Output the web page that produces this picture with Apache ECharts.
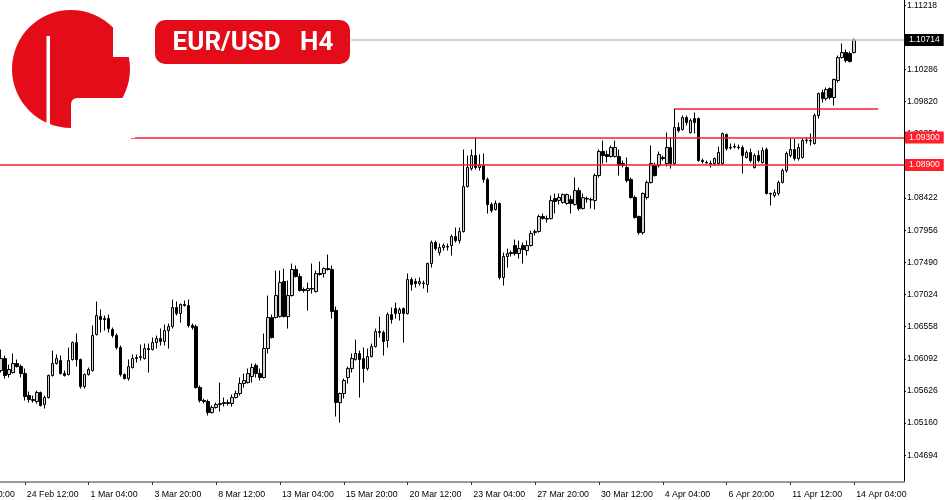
<!DOCTYPE html>
<html><head><meta charset="utf-8">
<script src="https://cdn.jsdelivr.net/npm/echarts@6/dist/echarts.min.js"></script>
<style>html,body{margin:0;padding:0;background:#fff}#c{width:950px;height:500px}</style>
</head><body><div id="c"></div>
<script>
// H4 candles, 23 Feb 2023 12:00 .. 14 Apr 2023 04:00
const opens = [
1.05921,1.06095,1.05863,1.05892,1.06023,1.05979,1.05878,1.05559,1.05486,1.05472,
1.05602,1.05428,1.05530,1.05849,1.06023,1.06066,1.05878,1.05863,1.06081,1.06327,
1.06081,1.05689,1.05863,1.05921,1.06443,1.06704,1.06675,1.06675,1.06516,1.06429,
1.06255,1.05863,1.05805,1.05965,1.06095,1.06110,1.06095,1.06240,1.06226,1.06327,
1.06385,1.06342,1.06501,1.06559,1.06835,1.06748,1.06878,1.06864,1.06574,1.06559,
1.05675,1.05486,1.05472,1.05312,1.05385,1.05428,1.05443,1.05457,1.05443,1.05530,
1.05588,1.05733,1.05747,1.05834,1.05994,1.05878,1.05820,1.06240,1.06690,1.06690,
1.06704,1.07212,1.06704,1.07009,1.07386,1.07284,1.07096,1.07081,1.07110,1.07067,
1.07328,1.07328,1.07400,1.07386,1.06791,1.05457,1.05588,1.05820,1.05950,1.06081,
1.06168,1.06095,1.05950,1.06124,1.06269,1.06487,1.06472,1.06356,1.06733,1.06820,
1.06748,1.06820,1.06748,1.07241,1.07212,1.07183,1.07183,1.07168,1.07473,1.07777,
1.07632,1.07705,1.07719,1.07734,1.07864,1.07806,1.07937,1.08589,1.08850,1.09039,
1.08865,1.08894,1.08691,1.08328,1.08256,1.08343,1.07270,1.07574,1.07618,1.07734,
1.07618,1.07734,1.07661,1.07734,1.07922,1.07937,1.08154,1.08125,1.08125,1.08415,
1.08386,1.08357,1.08343,1.08401,1.08328,1.08531,1.08270,1.08415,1.08401,1.08386,
1.08749,1.09097,1.09053,1.09024,1.09024,1.09024,1.08923,1.08865,1.08691,1.08430,
1.08154,1.07922,1.08430,1.08647,1.08894,1.08894,1.09010,1.08923,1.09155,1.08923,
1.09445,1.09416,1.09590,1.09372,1.09575,1.09575,1.08966,1.08937,1.08923,1.08923,
1.08923,1.08923,1.09343,1.09155,1.09169,1.09155,1.09155,1.09010,1.09082,1.08865,
1.09039,1.08937,1.09126,1.08488,1.08459,1.08488,1.08647,1.08821,1.09039,1.09126,
1.08995,1.09010,1.09256,1.09256,1.09213,1.09619,1.09952,1.09865,1.10010,1.09880,
1.10126,1.10460,1.10532,1.10518,1.10532];
const closes = [
1.06095,1.05849,1.05936,1.06023,1.05979,1.05878,1.05544,1.05501,1.05501,1.05602,
1.05414,1.05530,1.05849,1.06023,1.06095,1.05878,1.05849,1.06066,1.06327,1.06081,
1.05689,1.05863,1.05936,1.06429,1.06719,1.06661,1.06661,1.06530,1.06429,1.06255,
1.05863,1.05805,1.05979,1.06095,1.06110,1.06124,1.06240,1.06226,1.06327,1.06385,
1.06342,1.06501,1.06559,1.06835,1.06748,1.06878,1.06864,1.06574,1.06545,1.05675,
1.05486,1.05472,1.05312,1.05385,1.05428,1.05443,1.05457,1.05443,1.05530,1.05588,
1.05733,1.05776,1.05878,1.05965,1.05878,1.05820,1.06240,1.06690,1.06400,1.07009,
1.07197,1.06704,1.07009,1.07386,1.07284,1.07081,1.07081,1.07110,1.07103,1.07328,
1.07313,1.07400,1.07386,1.06777,1.05457,1.05588,1.05776,1.05950,1.06095,1.06168,
1.06081,1.05950,1.06124,1.06269,1.06487,1.06472,1.06342,1.06733,1.06661,1.06748,
1.06806,1.06748,1.07241,1.07168,1.07183,1.07212,1.07190,1.07473,1.07777,1.07690,
1.07705,1.07734,1.07712,1.07864,1.07806,1.07937,1.08589,1.08865,1.09039,1.08865,
1.08894,1.08691,1.08328,1.08241,1.08343,1.07270,1.07574,1.07618,1.07632,1.07618,
1.07690,1.07676,1.07734,1.07908,1.07937,1.08154,1.08125,1.08118,1.08386,1.08372,
1.08430,1.08473,1.08473,1.08343,1.08531,1.08270,1.08430,1.08408,1.08394,1.08749,
1.09097,1.09039,1.09024,1.09155,1.09155,1.08894,1.08894,1.08676,1.08430,1.08140,
1.07922,1.08488,1.08647,1.08923,1.08749,1.09053,1.08995,1.09155,1.08923,1.09445,
1.09401,1.09590,1.09517,1.09546,1.09517,1.08966,1.08952,1.08930,1.08916,1.08995,
1.09082,1.09358,1.09140,1.09148,1.09162,1.09162,1.09039,1.09082,1.08966,1.09039,
1.08966,1.09111,1.08488,1.08481,1.08502,1.08647,1.08821,1.09068,1.09126,1.08995,
1.09155,1.09256,1.09263,1.09249,1.09619,1.09938,1.09865,1.09996,1.09880,1.10141,
1.10460,1.10532,1.10416,1.10402,1.10714];
const lows = [
1.05892,1.05805,1.05820,1.05878,1.05965,1.05820,1.05486,1.05457,1.05457,1.05443,
1.05399,1.05370,1.05515,1.05834,1.06008,1.05863,1.05834,1.05849,1.06066,1.05979,
1.05660,1.05660,1.05849,1.05907,1.06429,1.06472,1.06501,1.06472,1.06400,1.06226,
1.05834,1.05791,1.05776,1.05950,1.06037,1.06066,1.06081,1.05892,1.06211,1.06240,
1.06284,1.06284,1.06240,1.06530,1.06719,1.06617,1.06849,1.06545,1.06516,1.05660,
1.05457,1.05443,1.05269,1.05298,1.05370,1.05327,1.05399,1.05414,1.05399,1.05515,
1.05559,1.05675,1.05733,1.05747,1.05820,1.05776,1.05805,1.06168,1.06385,1.06675,
1.06690,1.06690,1.06530,1.06994,1.07270,1.07067,1.07052,1.06791,1.07038,1.07052,
1.07299,1.07270,1.07371,1.06675,1.05254,1.05167,1.05515,1.05733,1.05892,1.06066,
1.05530,1.05747,1.05921,1.06110,1.06255,1.06400,1.06139,1.06255,1.06603,1.06675,
1.06646,1.06327,1.06733,1.07081,1.07125,1.07154,1.07110,1.07052,1.07415,1.07661,
1.07589,1.07661,1.07661,1.07589,1.07777,1.07763,1.07922,1.08575,1.08821,1.08836,
1.08821,1.08647,1.08198,1.08212,1.08241,1.07241,1.07154,1.07415,1.07574,1.07589,
1.07545,1.07473,1.07589,1.07719,1.07879,1.07922,1.08111,1.08067,1.08111,1.08198,
1.08328,1.08343,1.08328,1.08198,1.08314,1.08241,1.08256,1.08357,1.08270,1.08256,
1.08720,1.08923,1.08937,1.09010,1.09010,1.08749,1.08865,1.08647,1.08415,1.08125,
1.07893,1.07893,1.08401,1.08633,1.08734,1.08865,1.08966,1.08879,1.08850,1.08908,
1.09372,1.09401,1.09474,1.09358,1.09358,1.08952,1.08923,1.08923,1.08865,1.08894,
1.08894,1.08908,1.09111,1.09126,1.09140,1.09126,1.08778,1.08995,1.08937,1.08850,
1.08937,1.08923,1.08473,1.08314,1.08430,1.08459,1.08633,1.08792,1.09010,1.08966,
1.08966,1.08995,1.09213,1.09184,1.09198,1.09575,1.09807,1.09836,1.09851,1.09764,
1.10097,1.10445,1.10387,1.10387,1.10518];
const highs = [
1.06226,1.06139,1.06008,1.06168,1.06081,1.06008,1.05950,1.05617,1.05559,1.05631,
1.05617,1.05559,1.05863,1.06211,1.06153,1.06139,1.05921,1.06255,1.06342,1.06458,
1.06095,1.05878,1.05965,1.06574,1.06922,1.06806,1.06719,1.06733,1.06545,1.06458,
1.06284,1.05878,1.06081,1.06153,1.06153,1.06298,1.06313,1.06313,1.06400,1.06429,
1.06530,1.06588,1.06603,1.06951,1.06922,1.06893,1.06936,1.06951,1.06603,1.06588,
1.05704,1.05515,1.05501,1.05414,1.05457,1.05747,1.05530,1.05501,1.05573,1.05631,
1.05820,1.05878,1.05950,1.06023,1.06023,1.05950,1.06458,1.07009,1.06733,1.07371,
1.07371,1.07400,1.07226,1.07473,1.07444,1.07328,1.07125,1.07197,1.07473,1.07371,
1.07502,1.07415,1.07603,1.07444,1.06849,1.05602,1.05805,1.05979,1.06168,1.06371,
1.06211,1.06255,1.06240,1.06313,1.06530,1.06704,1.06501,1.06762,1.06835,1.06907,
1.06835,1.06835,1.07328,1.07270,1.07255,1.07270,1.07226,1.07487,1.07806,1.07806,
1.07763,1.07763,1.07763,1.07893,1.07995,1.07995,1.09126,1.09039,1.09126,1.09300,
1.09053,1.09068,1.08720,1.08357,1.08386,1.08357,1.07632,1.07690,1.07661,1.07821,
1.07806,1.07777,1.07806,1.07951,1.07966,1.08183,1.08198,1.08169,1.08459,1.08488,
1.08488,1.08488,1.08488,1.08459,1.08720,1.08575,1.08488,1.08444,1.08430,1.08778,
1.09126,1.09256,1.09111,1.09184,1.09256,1.09126,1.08966,1.09010,1.08720,1.08459,
1.08169,1.08502,1.08676,1.09184,1.08937,1.09097,1.09039,1.09372,1.09300,1.09720,
1.09517,1.09619,1.09619,1.09575,1.09662,1.09590,1.08995,1.08966,1.08966,1.09010,
1.09169,1.09372,1.09358,1.09213,1.09213,1.09198,1.09184,1.09111,1.09140,1.09068,
1.09111,1.09155,1.09155,1.08502,1.08546,1.08676,1.08850,1.09097,1.09285,1.09285,
1.09213,1.09285,1.09300,1.09358,1.09648,1.09952,1.09996,1.10025,1.10025,1.10155,
1.10489,1.10663,1.10576,1.10547,1.10735];

const xTickLabels = ['21 Feb 20:00','24 Feb 12:00','1 Mar 04:00','3 Mar 20:00','8 Mar 12:00',
  '13 Mar 04:00','15 Mar 20:00','20 Mar 12:00','23 Mar 04:00','27 Mar 20:00','30 Mar 12:00',
  '4 Apr 04:00','6 Apr 20:00','11 Apr 12:00','14 Apr 04:00'];
const yTicks = [1.04694,1.05160,1.05626,1.06092,1.06558,1.07024,1.07490,1.07956,
  1.08422,1.08888,1.09354,1.09820,1.10286,1.10752,1.11218];
const currentPrice = 1.10714;
const levels = [1.09300, 1.08900];
const resistance = 1.09716;
const yMin = 1.04305, yMax = 1.11294;

// H4 time categories (Mon-Fri), a few bars before the first candle and after the last
const LEAD = 10, TRAIL = 12, N = opens.length;
const MON = ['Jan','Feb','Mar','Apr','May','Jun','Jul','Aug','Sep','Oct','Nov','Dec'];
const categories = [];
let t = Date.UTC(2023, 1, 21, 20);
while (categories.length < LEAD + N + TRAIL) {
  const d = new Date(t), wd = d.getUTCDay();
  if (wd !== 0 && wd !== 6) categories.push(d.getUTCDate() + ' ' + MON[d.getUTCMonth()] + ' ' + String(d.getUTCHours()).padStart(2, '0') + ':00');
  t += 4 * 3600e3;
}
const candleData = categories.map((c, k) => {
  const i = k - LEAD;
  return (i >= 0 && i < N) ? [opens[i], closes[i], lows[i], highs[i]] : ['-', '-', '-', '-'];
});
const tickSet = new Set(xTickLabels);
const resStart = LEAD + 169, resEnd = LEAD + 220;

const RED = '#f0202c', BOXRED = '#ff1e2a';
function boxLabel(bg) {
  return { show: true, position: 'end', distance: 1, formatter: p => Number(p.value).toFixed(5),
    backgroundColor: bg, color: '#fff', fontSize: 8.5, fontFamily: 'Liberation Sans',
    padding: [2, 4, 1, 4], lineHeight: 9 };
}
function levelSeries(name, lineItem, color, width, z) {
  return { type: 'line', name: name, data: [], z: z, silent: true,
    markLine: { silent: true, symbol: ['none', 'none'], animation: false, precision: 5,
      lineStyle: { color: color, width: width, type: 'solid', opacity: 1 },
      emphasis: { disabled: true }, data: [lineItem] } };
}

const chart = echarts.init(document.getElementById('c'), null, { renderer: 'canvas' });
chart.setOption({
  animation: false,
  backgroundColor: '#fff',
  grid: { left: -41, right: 46, top: 0, bottom: 18, containLabel: false, outerBoundsMode: 'none' },
  xAxis: {
    type: 'category', data: categories, boundaryGap: true,
    axisLine: { show: true, lineStyle: { color: '#999', width: 2 } },
    axisTick: { show: true, alignWithLabel: true, length: 3, interval: (i, v) => tickSet.has(v), lineStyle: { color: '#333' } },
    axisLabel: { interval: (i, v) => tickSet.has(v), align: 'left', margin: 8, fontSize: 8.8,
      fontFamily: 'Liberation Sans', color: '#000', padding: [0, 0, 0, 2], hideOverlap: false },
    splitLine: { show: false }
  },
  yAxis: {
    type: 'value', position: 'right', min: yMin, max: yMax, scale: true,
    axisLine: { show: true, lineStyle: { color: '#000', width: 1 } },
    axisTick: { show: true, customValues: yTicks, length: 2, lineStyle: { color: '#000' } },
    axisLabel: { customValues: yTicks, formatter: v => v.toFixed(5), margin: 3, fontSize: 8.5,
      fontFamily: 'Liberation Sans', color: '#000' },
    splitLine: { show: false }
  },
  series: [
    { type: 'candlestick', data: candleData, barWidth: 3, clip: false, z: 2,
      itemStyle: { color: '#d4d4d4', color0: '#000', borderColor: '#000', borderColor0: '#000', borderWidth: 1 } },
    levelSeries('current', { yAxis: currentPrice, label: boxLabel('#000') }, '#c6c6c6', 1.5, 3),
    levelSeries('level1', { yAxis: levels[0], label: boxLabel(BOXRED) }, RED, 1.5, 4),
    levelSeries('level2', { yAxis: levels[1], label: boxLabel(BOXRED) }, RED, 1.5, 4),
    levelSeries('resistance', [{ coord: [resStart, resistance], label: { show: false } }, { coord: [resEnd, resistance] }], RED, 1.5, 4)
  ],
  graphic: [
    { type: 'rect', z: 100, shape: { x: 0, y: 0, width: 131, height: 150 }, style: { fill: '#fff' } },
    { type: 'rect', z: 100, shape: { x: 131, y: 0, width: 220, height: 66 }, style: { fill: '#fff' } },
    { type: 'circle', z: 101, shape: { cx: 71, cy: 69, r: 59 }, style: { fill: '#e30c18' } },
    { type: 'rect', z: 102, shape: { x: 46.5, y: 36, width: 3.5, height: 95 }, style: { fill: '#fff' } },
    { type: 'rect', z: 102, shape: { x: 113, y: 26, width: 24, height: 31 }, style: { fill: '#fff' } },
    { type: 'rect', z: 102, shape: { x: 71, y: 98, width: 64, height: 40, r: [6, 0, 0, 0] }, style: { fill: '#fff' } },
    { type: 'rect', z: 101, shape: { x: 155, y: 20, width: 195, height: 44, r: 10 }, style: { fill: '#e30c18' } },
    { type: 'text', z: 103, style: { text: 'EUR/USD   H4', x: 253, y: 43, align: 'center', verticalAlign: 'middle',
      fill: '#fff', fontSize: 26, fontWeight: 'bold', fontFamily: 'Roboto' } }
  ]
});
</script>
</body></html>
